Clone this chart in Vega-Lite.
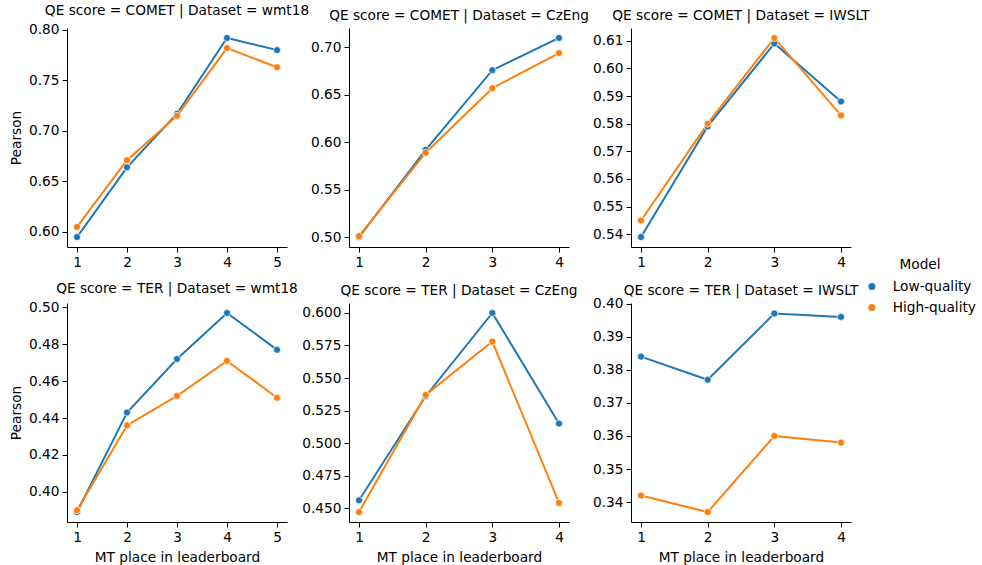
{
  "$schema": "https://vega.github.io/schema/vega-lite/v6.json",
  "padding": {"left": 9, "top": 4, "right": 0, "bottom": 0},
  "background": "white",
  "datasets": {
    "scores": [
      {"qe": "COMET", "dataset": "wmt18", "place": 1, "model": "Low-quality", "pearson": 0.595},
      {"qe": "COMET", "dataset": "wmt18", "place": 2, "model": "Low-quality", "pearson": 0.664},
      {"qe": "COMET", "dataset": "wmt18", "place": 3, "model": "Low-quality", "pearson": 0.717},
      {"qe": "COMET", "dataset": "wmt18", "place": 4, "model": "Low-quality", "pearson": 0.792},
      {"qe": "COMET", "dataset": "wmt18", "place": 5, "model": "Low-quality", "pearson": 0.780},
      {"qe": "COMET", "dataset": "wmt18", "place": 1, "model": "High-quality", "pearson": 0.605},
      {"qe": "COMET", "dataset": "wmt18", "place": 2, "model": "High-quality", "pearson": 0.671},
      {"qe": "COMET", "dataset": "wmt18", "place": 3, "model": "High-quality", "pearson": 0.715},
      {"qe": "COMET", "dataset": "wmt18", "place": 4, "model": "High-quality", "pearson": 0.782},
      {"qe": "COMET", "dataset": "wmt18", "place": 5, "model": "High-quality", "pearson": 0.763},
      {"qe": "COMET", "dataset": "CzEng", "place": 1, "model": "Low-quality", "pearson": 0.500},
      {"qe": "COMET", "dataset": "CzEng", "place": 2, "model": "Low-quality", "pearson": 0.592},
      {"qe": "COMET", "dataset": "CzEng", "place": 3, "model": "Low-quality", "pearson": 0.676},
      {"qe": "COMET", "dataset": "CzEng", "place": 4, "model": "Low-quality", "pearson": 0.710},
      {"qe": "COMET", "dataset": "CzEng", "place": 1, "model": "High-quality", "pearson": 0.501},
      {"qe": "COMET", "dataset": "CzEng", "place": 2, "model": "High-quality", "pearson": 0.589},
      {"qe": "COMET", "dataset": "CzEng", "place": 3, "model": "High-quality", "pearson": 0.657},
      {"qe": "COMET", "dataset": "CzEng", "place": 4, "model": "High-quality", "pearson": 0.694},
      {"qe": "COMET", "dataset": "IWSLT", "place": 1, "model": "Low-quality", "pearson": 0.539},
      {"qe": "COMET", "dataset": "IWSLT", "place": 2, "model": "Low-quality", "pearson": 0.579},
      {"qe": "COMET", "dataset": "IWSLT", "place": 3, "model": "Low-quality", "pearson": 0.609},
      {"qe": "COMET", "dataset": "IWSLT", "place": 4, "model": "Low-quality", "pearson": 0.588},
      {"qe": "COMET", "dataset": "IWSLT", "place": 1, "model": "High-quality", "pearson": 0.545},
      {"qe": "COMET", "dataset": "IWSLT", "place": 2, "model": "High-quality", "pearson": 0.580},
      {"qe": "COMET", "dataset": "IWSLT", "place": 3, "model": "High-quality", "pearson": 0.611},
      {"qe": "COMET", "dataset": "IWSLT", "place": 4, "model": "High-quality", "pearson": 0.583},
      {"qe": "TER", "dataset": "wmt18", "place": 1, "model": "Low-quality", "pearson": 0.389},
      {"qe": "TER", "dataset": "wmt18", "place": 2, "model": "Low-quality", "pearson": 0.443},
      {"qe": "TER", "dataset": "wmt18", "place": 3, "model": "Low-quality", "pearson": 0.472},
      {"qe": "TER", "dataset": "wmt18", "place": 4, "model": "Low-quality", "pearson": 0.497},
      {"qe": "TER", "dataset": "wmt18", "place": 5, "model": "Low-quality", "pearson": 0.477},
      {"qe": "TER", "dataset": "wmt18", "place": 1, "model": "High-quality", "pearson": 0.390},
      {"qe": "TER", "dataset": "wmt18", "place": 2, "model": "High-quality", "pearson": 0.436},
      {"qe": "TER", "dataset": "wmt18", "place": 3, "model": "High-quality", "pearson": 0.452},
      {"qe": "TER", "dataset": "wmt18", "place": 4, "model": "High-quality", "pearson": 0.471},
      {"qe": "TER", "dataset": "wmt18", "place": 5, "model": "High-quality", "pearson": 0.451},
      {"qe": "TER", "dataset": "CzEng", "place": 1, "model": "Low-quality", "pearson": 0.456},
      {"qe": "TER", "dataset": "CzEng", "place": 2, "model": "Low-quality", "pearson": 0.536},
      {"qe": "TER", "dataset": "CzEng", "place": 3, "model": "Low-quality", "pearson": 0.600},
      {"qe": "TER", "dataset": "CzEng", "place": 4, "model": "Low-quality", "pearson": 0.515},
      {"qe": "TER", "dataset": "CzEng", "place": 1, "model": "High-quality", "pearson": 0.447},
      {"qe": "TER", "dataset": "CzEng", "place": 2, "model": "High-quality", "pearson": 0.537},
      {"qe": "TER", "dataset": "CzEng", "place": 3, "model": "High-quality", "pearson": 0.578},
      {"qe": "TER", "dataset": "CzEng", "place": 4, "model": "High-quality", "pearson": 0.454},
      {"qe": "TER", "dataset": "IWSLT", "place": 1, "model": "Low-quality", "pearson": 0.384},
      {"qe": "TER", "dataset": "IWSLT", "place": 2, "model": "Low-quality", "pearson": 0.377},
      {"qe": "TER", "dataset": "IWSLT", "place": 3, "model": "Low-quality", "pearson": 0.397},
      {"qe": "TER", "dataset": "IWSLT", "place": 4, "model": "Low-quality", "pearson": 0.396},
      {"qe": "TER", "dataset": "IWSLT", "place": 1, "model": "High-quality", "pearson": 0.342},
      {"qe": "TER", "dataset": "IWSLT", "place": 2, "model": "High-quality", "pearson": 0.337},
      {"qe": "TER", "dataset": "IWSLT", "place": 3, "model": "High-quality", "pearson": 0.360},
      {"qe": "TER", "dataset": "IWSLT", "place": 4, "model": "High-quality", "pearson": 0.358}
    ]
  },
  "data": {"name": "scores"},
  "columns": 3,
  "bounds": "flush",
  "spacing": {"row": 56, "column": 62},
  "concat": [
    {
      "title": "QE score = COMET | Dataset = wmt18",
      "width": 220, "height": 219,
      "transform": [{"filter": "datum.qe === 'COMET' && datum.dataset === 'wmt18'"}],
      "encoding": {
        "x": {"field": "place", "type": "quantitative", "scale": {"domain": [0.8, 5.2], "nice": false, "zero": false}, "axis": {"values": [1, 2, 3, 4, 5], "format": "d", "title": null}},
        "y": {"field": "pearson", "type": "quantitative", "scale": {"domain": [0.58515, 0.80185], "nice": false, "zero": false}, "axis": {"values": [0.6, 0.65, 0.7, 0.75, 0.8], "format": ".2f", "title": "Pearson"}},
        "color": {"field": "model", "type": "nominal", "sort": ["Low-quality", "High-quality"], "scale": {"domain": ["Low-quality", "High-quality"], "range": ["#1f77b4", "#ff7f0e"]}, "title": "Model"}
      },
      "layer": [
        {"mark": {"type": "line", "strokeWidth": 2}},
        {"mark": {"type": "point", "filled": true, "size": 50, "opacity": 1, "stroke": "white", "strokeWidth": 0.7}}
      ]
    },
    {
      "title": "QE score = COMET | Dataset = CzEng",
      "width": 220, "height": 219,
      "transform": [{"filter": "datum.qe === 'COMET' && datum.dataset === 'CzEng'"}],
      "encoding": {
        "x": {"field": "place", "type": "quantitative", "scale": {"domain": [0.85, 4.15], "nice": false, "zero": false}, "axis": {"values": [1, 2, 3, 4], "format": "d", "title": null}},
        "y": {"field": "pearson", "type": "quantitative", "scale": {"domain": [0.4895, 0.7205], "nice": false, "zero": false}, "axis": {"values": [0.5, 0.55, 0.6, 0.65, 0.7], "format": ".2f", "title": null}},
        "color": {"field": "model", "type": "nominal", "sort": ["Low-quality", "High-quality"], "scale": {"domain": ["Low-quality", "High-quality"], "range": ["#1f77b4", "#ff7f0e"]}, "title": "Model"}
      },
      "layer": [
        {"mark": {"type": "line", "strokeWidth": 2}},
        {"mark": {"type": "point", "filled": true, "size": 50, "opacity": 1, "stroke": "white", "strokeWidth": 0.7}}
      ]
    },
    {
      "title": "QE score = COMET | Dataset = IWSLT",
      "width": 220, "height": 219,
      "transform": [{"filter": "datum.qe === 'COMET' && datum.dataset === 'IWSLT'"}],
      "encoding": {
        "x": {"field": "place", "type": "quantitative", "scale": {"domain": [0.85, 4.15], "nice": false, "zero": false}, "axis": {"values": [1, 2, 3, 4], "format": "d", "title": null}},
        "y": {"field": "pearson", "type": "quantitative", "scale": {"domain": [0.5354, 0.6146], "nice": false, "zero": false}, "axis": {"values": [0.54, 0.55, 0.56, 0.57, 0.58, 0.59, 0.6, 0.61], "format": ".2f", "title": null}},
        "color": {"field": "model", "type": "nominal", "sort": ["Low-quality", "High-quality"], "scale": {"domain": ["Low-quality", "High-quality"], "range": ["#1f77b4", "#ff7f0e"]}, "title": "Model"}
      },
      "layer": [
        {"mark": {"type": "line", "strokeWidth": 2}},
        {"mark": {"type": "point", "filled": true, "size": 50, "opacity": 1, "stroke": "white", "strokeWidth": 0.7}}
      ]
    },
    {
      "title": "QE score = TER | Dataset = wmt18",
      "width": 220, "height": 219,
      "transform": [{"filter": "datum.qe === 'TER' && datum.dataset === 'wmt18'"}],
      "encoding": {
        "x": {"field": "place", "type": "quantitative", "scale": {"domain": [0.8, 5.2], "nice": false, "zero": false}, "axis": {"values": [1, 2, 3, 4, 5], "format": "d", "title": "MT place in leaderboard"}},
        "y": {"field": "pearson", "type": "quantitative", "scale": {"domain": [0.3836, 0.5024], "nice": false, "zero": false}, "axis": {"values": [0.4, 0.42, 0.44, 0.46, 0.48, 0.5], "format": ".2f", "title": "Pearson"}},
        "color": {"field": "model", "type": "nominal", "sort": ["Low-quality", "High-quality"], "scale": {"domain": ["Low-quality", "High-quality"], "range": ["#1f77b4", "#ff7f0e"]}, "title": "Model"}
      },
      "layer": [
        {"mark": {"type": "line", "strokeWidth": 2}},
        {"mark": {"type": "point", "filled": true, "size": 50, "opacity": 1, "stroke": "white", "strokeWidth": 0.7}}
      ]
    },
    {
      "title": "QE score = TER | Dataset = CzEng",
      "width": 220, "height": 219,
      "transform": [{"filter": "datum.qe === 'TER' && datum.dataset === 'CzEng'"}],
      "encoding": {
        "x": {"field": "place", "type": "quantitative", "scale": {"domain": [0.85, 4.15], "nice": false, "zero": false}, "axis": {"values": [1, 2, 3, 4], "format": "d", "title": "MT place in leaderboard"}},
        "y": {"field": "pearson", "type": "quantitative", "scale": {"domain": [0.43935, 0.60765], "nice": false, "zero": false}, "axis": {"values": [0.45, 0.475, 0.5, 0.525, 0.55, 0.575, 0.6], "format": ".3f", "title": null}},
        "color": {"field": "model", "type": "nominal", "sort": ["Low-quality", "High-quality"], "scale": {"domain": ["Low-quality", "High-quality"], "range": ["#1f77b4", "#ff7f0e"]}, "title": "Model"}
      },
      "layer": [
        {"mark": {"type": "line", "strokeWidth": 2}},
        {"mark": {"type": "point", "filled": true, "size": 50, "opacity": 1, "stroke": "white", "strokeWidth": 0.7}}
      ]
    },
    {
      "title": {"text": "QE score = TER | Dataset = IWSLT", "offset": -1},
      "width": 220, "height": 219,
      "transform": [{"filter": "datum.qe === 'TER' && datum.dataset === 'IWSLT'"}],
      "encoding": {
        "x": {"field": "place", "type": "quantitative", "scale": {"domain": [0.85, 4.15], "nice": false, "zero": false}, "axis": {"values": [1, 2, 3, 4], "format": "d", "title": "MT place in leaderboard"}},
        "y": {"field": "pearson", "type": "quantitative", "scale": {"domain": [0.334, 0.4002], "nice": false, "zero": false}, "axis": {"values": [0.34, 0.35, 0.36, 0.37, 0.38, 0.39, 0.4], "format": ".2f", "title": null}},
        "color": {"field": "model", "type": "nominal", "sort": ["Low-quality", "High-quality"], "scale": {"domain": ["Low-quality", "High-quality"], "range": ["#1f77b4", "#ff7f0e"]}, "title": "Model"}
      },
      "layer": [
        {"mark": {"type": "line", "strokeWidth": 2}},
        {"mark": {"type": "point", "filled": true, "size": 50, "opacity": 1, "stroke": "white", "strokeWidth": 0.7}}
      ]
    }
  ],
  "config": {
    "font": "DejaVu Sans",
    "view": {"stroke": null},
    "title": {"fontSize": 13.7, "fontWeight": "normal", "color": "#000000", "anchor": "middle", "offset": 5, "font": "DejaVu Sans"},
    "axis": {
      "grid": false,
      "domainColor": "#000000",
      "domainWidth": 1,
      "tickColor": "#000000",
      "tickWidth": 1,
      "tickSize": 5,
      "labelFontSize": 13.7,
      "labelColor": "#000000",
      "labelPadding": 3,
      "labelFlush": false,
      "labelOverlap": false,
      "labelBound": false,
      "titleFontSize": 13.7,
      "titleFontWeight": "normal",
      "titleColor": "#000000",
      "titlePadding": 5
    },
    "axisX": {"titlePadding": 7},
    "legend": {
      "orient": "none",
      "legendX": 798,
      "legendY": 230,
      "titleFontSize": 13.7,
      "titleFontWeight": "normal",
      "titleColor": "#000000",
      "titleAnchor": "middle",
      "titlePadding": 8,
      "labelFontSize": 13.7,
      "labelColor": "#000000",
      "labelOffset": 14,
      "symbolType": "circle",
      "symbolSize": 50,
      "symbolStrokeWidth": 0,
      "rowPadding": 6
    }
  }
}
